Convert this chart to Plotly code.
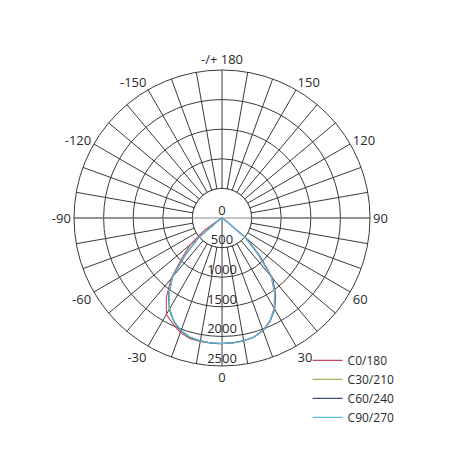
import plotly.graph_objects as go

# luminous intensity (cd/klm style) against gamma angle
gamma = [0, 5, 10, 15, 20, 25, 30, 35, 40, 45, 50, 55, 60, 65, 70, 75, 80, 85, 90]

c0_right = [2120, 2118, 2105, 2080, 2020, 1915, 1760, 1550, 1290, 850, 510, 60, 0, 0, 0, 0, 0, 0, 0]
c0_left = [2125, 2125, 2118, 2105, 2060, 1970, 1880, 1640, 1340, 960, 700, 360, 50, 0, 0, 0, 0, 0, 0]
c30_right = [2120, 2118, 2108, 2085, 2025, 1920, 1770, 1560, 1300, 860, 520, 70, 0, 0, 0, 0, 0, 0, 0]
c30_left = [2122, 2120, 2110, 2090, 2035, 1935, 1790, 1580, 1320, 880, 540, 80, 0, 0, 0, 0, 0, 0, 0]
c60_right = [2118, 2116, 2105, 2082, 2025, 1925, 1780, 1580, 1330, 900, 560, 90, 0, 0, 0, 0, 0, 0, 0]
c60_left = [2120, 2118, 2108, 2085, 2030, 1925, 1775, 1565, 1300, 860, 520, 60, 0, 0, 0, 0, 0, 0, 0]
c90_right = [2120, 2118, 2105, 2080, 2020, 1920, 1770, 1560, 1300, 860, 520, 60, 0, 0, 0, 0, 0, 0, 0]
c90_left = [2120, 2118, 2105, 2080, 2020, 1920, 1770, 1560, 1300, 860, 520, 60, 0, 0, 0, 0, 0, 0, 0]

series = [
    ("C0/180", c0_left, c0_right, "#c0485e"),
    ("C30/210", c30_left, c30_right, "#a3b35a"),
    ("C60/240", c60_left, c60_right, "#3f4c86"),
    ("C90/270", c90_left, c90_right, "#62bde6"),
]

radial_vals = [0, 500, 1000, 1500, 2000, 2500]
angle_labels = {0: "0", 30: "30", 60: "60", 90: "90", 120: "120", 150: "150",
                180: "-/+ 180", 210: "-150", 240: "-120", 270: "-90", 300: "-60", 330: "-30"}

grid = "#3a3a3a"
txt = "#2a2a2a"
fig = go.Figure()

# blank out the spokes inside the first ring
ring = list(range(0, 361, 5))
fig.add_trace(go.Scatterpolar(r=[500] * len(ring), theta=ring, mode="lines", fill="toself",
                              fillcolor="white", line=dict(color=grid, width=1),
                              showlegend=False, hoverinfo="skip"))
fig.add_trace(go.Scatterpolar(r=[2500, 0, 2500], theta=[90, 90, 270], mode="lines",
                              line=dict(color="#8a8a8a", width=1.2),
                              showlegend=False, hoverinfo="skip"))
fig.add_trace(go.Scatterpolar(r=[0, 500], theta=[0, 0], mode="lines",
                              line=dict(color=grid, width=1),
                              showlegend=False, hoverinfo="skip"))

for name, left, right, color in series:
    theta = [360 - g for g in reversed(gamma)] + gamma
    r = list(reversed(left)) + right
    fig.add_trace(go.Scatterpolar(r=r, theta=theta, mode="lines", name=name,
                                  line=dict(color=color, width=1.1)))

fig.add_trace(go.Scatterpolar(r=radial_vals, theta=[0] * len(radial_vals), mode="text",
                              text=[str(v) for v in radial_vals], textposition="top center",
                              textfont=dict(size=13, color=txt, family="Open Sans"),
                              showlegend=False, hoverinfo="skip"))

fig.update_layout(
    width=456, height=456,
    margin=dict(l=0, r=0, t=0, b=0),
    paper_bgcolor="white",
    font=dict(family="Open Sans", size=13, color=txt),
    polar=dict(
        domain=dict(x=[0.1448, 0.7939], y=[0.2149, 0.8640]),
        bgcolor="white",
        angularaxis=dict(rotation=-90, direction="counterclockwise",
                         tickvals=list(range(0, 360, 10)),
                         ticktext=[angle_labels.get(a, "") for a in range(0, 360, 10)],
                         ticks="", showline=True, linecolor=grid, linewidth=1,
                         gridcolor=grid, gridwidth=1,
                         tickfont=dict(size=13, color=txt)),
        radialaxis=dict(range=[0, 2500], tickvals=radial_vals[1:], showticklabels=False,
                        ticks="", showline=False, gridcolor=grid, gridwidth=1),
    ),
    legend=dict(x=0.657, y=0.259, xanchor="left", yanchor="top",
                font=dict(size=12, color=txt), tracegroupgap=0,
                bgcolor="rgba(0,0,0,0)"),
)

fig.write_html("out.html")
